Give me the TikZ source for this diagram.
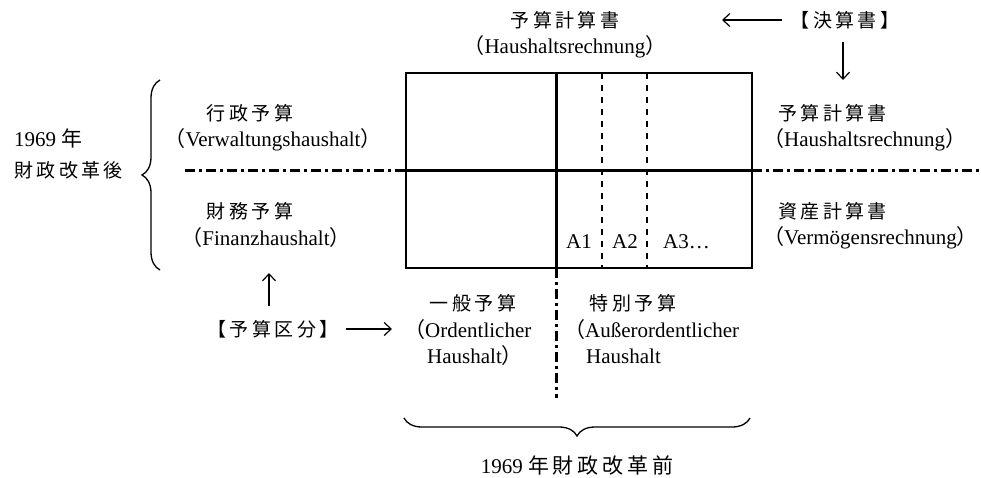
\documentclass[tikz,border=0pt]{standalone}
\usepackage{fontspec}
\setmainfont{Liberation Serif}
\newfontfamily\cjk[LetterSpace=18]{Noto Sans CJK JP}
\newfontfamily\cjkp{Noto Sans CJK JP}
\usetikzlibrary{decorations.pathreplacing,arrows.meta}
\newcommand\lpar{{\cjkp （}}
\newcommand\rpar{{\cjkp ）}}
\begin{document}
\begin{tikzpicture}[x=1pt,y=-1pt,
  txt/.style={inner sep=0pt,font=\fontsize{21}{24}\selectfont},
  jtxt/.style={inner sep=0pt,font=\fontsize{19}{24}\selectfont\cjk},
  frame/.style={line width=1.5pt},
  thick line/.style={line width=3pt},
  dashdot/.style={line width=3pt,dash pattern=on 10pt off 4pt on 3pt off 4pt},
  thindash/.style={line width=1.3pt,dash pattern=on 6pt off 6pt},
  arr/.style={line width=1.2pt,-{Straight Barb[length=7pt,width=13pt]}},
  bracedeco/.style={line width=1.3pt,decorate,decoration={brace,amplitude=18pt}}]
\useasboundingbox (0,0) rectangle (981,478);
% box
\coordinate (tl) at (406,73);
\coordinate (br) at (752,268);
\draw[frame] (tl) rectangle (br);
\coordinate (vt) at (556,73);
\coordinate (vb) at (556,268);
\coordinate (vend) at (556,398);
\draw[thick line] (vt) -- (vb);
\draw[dashdot] (vb) -- (vend);
\coordinate (hl) at (406,171);
\coordinate (hr) at (752,171);
\coordinate (hl0) at (185,171);
\coordinate (hr0) at (981,171);
\draw[thick line] (hl) -- (hr);
\draw[dashdot] (hl0) -- (hl);
\draw[dashdot] (hr) -- (hr0);
\coordinate (d1t) at (602,73);
\coordinate (d1b) at (602,268);
\coordinate (d2t) at (647,73);
\coordinate (d2b) at (647,268);
\draw[thindash] (d1t) -- (d1b);
\draw[thindash] (d2t) -- (d2b);
\node[txt] (a1) at (579,242) {A1};
\node[txt] (a2) at (625,242) {A2};
\node[txt,anchor=west] (a3) at (663,242) {A3\dots};
% top
\node[jtxt] (top1) at (565,20) {予算計算書};
\node[txt] (top2) at (565,47) {\lpar Haushaltsrechnung\rpar};
\node[jtxt] (kessan) at (845,20) {【決算書】};
\coordinate (ka) at (782,20);
\coordinate (kb) at (722,20);
\draw[arr] (ka) -- (kb);
\coordinate (kc) at (843,42);
\coordinate (kd) at (843,80);
\draw[arr] (kc) -- (kd);
% right
\node[jtxt,anchor=west] (r1) at (778,113) {予算計算書};
\node[txt,anchor=west] (r2) at (763,140) {\lpar Haushaltsrechnung\rpar};
\node[jtxt,anchor=west] (r3) at (778,211) {資産計算書};
\node[txt,anchor=west] (r4) at (763,238) {\lpar Vermögensrechnung\rpar};
% left
\node[txt,anchor=west] (y1) at (14,138) {1969 {\cjkp 年}};
\node[jtxt,anchor=west] (y2) at (14,170) {財政改革後};
\coordinate (lb1) at (160,270);
\coordinate (lb2) at (160,80);
\draw[bracedeco] (lb1) -- (lb2);
\node[jtxt] (l1) at (250,113) {行政予算};
\node[txt] (l2) at (273,140) {\lpar Verwaltungshaushalt\rpar};
\node[jtxt] (l3) at (250,211) {財務予算};
\node[txt] (l4) at (266,238) {\lpar Finanzhaushalt\rpar};
\coordinate (ua) at (269,306);
\coordinate (ub) at (269,273);
\draw[arr] (ua) -- (ub);
\node[jtxt] (kubun) at (273,329) {【予算区分】};
\coordinate (ka2) at (346,329);
\coordinate (kb2) at (392,329);
\draw[arr] (ka2) -- (kb2);
% bottom
\node[jtxt] (ip) at (473,303) {一般予算};
\node[txt,anchor=west] (ip2) at (404,330) {\lpar Ordentlicher};
\node[txt,anchor=west] (ip3) at (427,356) {Haushalt\rpar};
\node[jtxt] (tk) at (633,303) {特別予算};
\node[txt,anchor=west] (tk2) at (564,330) {\lpar Außerordentlicher};
\node[txt,anchor=west] (tk3) at (586,356) {Haushalt};
\coordinate (bb1) at (750,418);
\coordinate (bb2) at (404,418);
\draw[bracedeco] (bb1) -- (bb2);
\node[txt] (mae) at (577,466) {1969 {\cjk 年財政改革前}};
\end{tikzpicture}
\end{document}
